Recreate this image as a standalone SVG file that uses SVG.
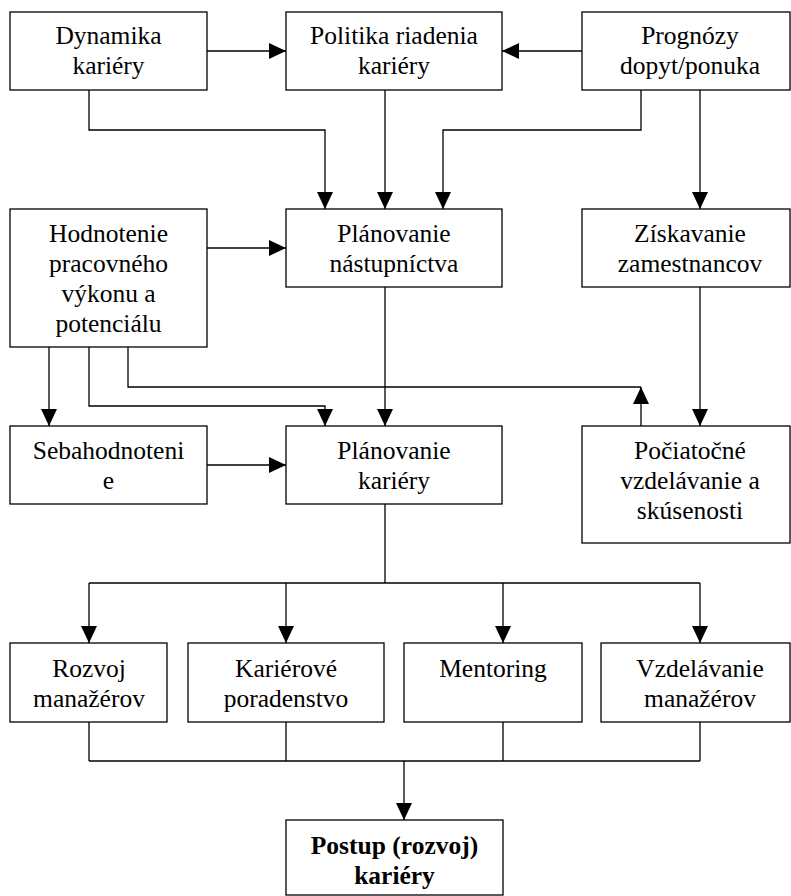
<svg xmlns="http://www.w3.org/2000/svg" width="791" height="896" viewBox="0 0 791 896">
<style>
.box{fill:#fff;stroke:#000;stroke-width:1.3}
.t{font-family:"Liberation Serif","Times New Roman",serif;font-size:25.5px;fill:#000;text-anchor:middle}
.b{font-weight:bold}
.c{fill:none;stroke:#000;stroke-width:1.3}
.a{marker-end:url(#ah)}
</style>
<defs>
<marker id="ah" markerUnits="userSpaceOnUse" markerWidth="18" markerHeight="18" refX="17" refY="8" orient="auto">
<path d="M0,0 L17,8 L0,16 z" fill="#000"/>
</marker>
</defs>
<rect width="791" height="896" fill="#fff"/>
<g id="connectors">
<path class="c a" d="M207,51 H286"/>
<path class="c a" d="M582,51 H502"/>
<path class="c a" d="M89,90 V130 H325 V209"/>
<path class="c a" d="M385,90 V209"/>
<path class="c a" d="M641,90 V130 H443 V209"/>
<path class="c a" d="M700,90 V209"/>
<path class="c a" d="M207,248 H286"/>
<path class="c a" d="M49,347 V426"/>
<path class="c a" d="M89,347 V406 H325 V426"/>
<path class="c" d="M128,347 V387 H641"/>
<path class="c a" d="M641,426 V387"/>
<path class="c a" d="M385,287 V426"/>
<path class="c a" d="M700,287 V426"/>
<path class="c a" d="M207,465 H286"/>
<path class="c" d="M385,504 V583 M89,583 H700"/>
<path class="c a" d="M89,583 V643"/>
<path class="c a" d="M286,583 V643"/>
<path class="c a" d="M503,583 V643"/>
<path class="c a" d="M700,583 V643"/>
<path class="c" d="M89,722 V761 M286,722 V761 M503,722 V761 M700,722 V761 M89,761 H700"/>
<path class="c a" d="M404,761 V820"/>
</g>
<g id="dynamika">
<rect class="box" x="10" y="12" width="197" height="78"/>
<text class="t" x="108.5" y="44">Dynamika</text>
<text class="t" x="108.5" y="74">kariéry</text>
</g>
<g id="politika">
<rect class="box" x="286" y="12" width="216" height="78"/>
<text class="t" x="394" y="44">Politika riadenia</text>
<text class="t" x="394" y="74">kariéry</text>
</g>
<g id="prognozy">
<rect class="box" x="582" y="12" width="208" height="78"/>
<text class="t" x="690" y="44">Prognózy</text>
<text class="t" x="690" y="74">dopyt/ponuka</text>
</g>
<g id="hodnotenie">
<rect class="box" x="10" y="209" width="197" height="138"/>
<text class="t" x="108.5" y="242">Hodnotenie</text>
<text class="t" x="108.5" y="272">pracovného</text>
<text class="t" x="108.5" y="302">výkonu a</text>
<text class="t" x="108.5" y="332">potenciálu</text>
</g>
<g id="planovanie-nastupnictva">
<rect class="box" x="286" y="209" width="216" height="78"/>
<text class="t" x="394" y="242">Plánovanie</text>
<text class="t" x="394" y="272">nástupníctva</text>
</g>
<g id="ziskavanie">
<rect class="box" x="582" y="209" width="208" height="78"/>
<text class="t" x="690" y="242">Získavanie</text>
<text class="t" x="690" y="272">zamestnancov</text>
</g>
<g id="sebahodnotenie">
<rect class="box" x="10" y="426" width="197" height="78"/>
<text class="t" x="108.5" y="459">Sebahodnoteni</text>
<text class="t" x="108.5" y="489">e</text>
</g>
<g id="planovanie-kariery">
<rect class="box" x="286" y="426" width="216" height="78"/>
<text class="t" x="394" y="459">Plánovanie</text>
<text class="t" x="394" y="489">kariéry</text>
</g>
<g id="pociatocne">
<rect class="box" x="582" y="426" width="208" height="117"/>
<text class="t" x="690" y="459">Počiatočné</text>
<text class="t" x="690" y="489">vzdelávanie a</text>
<text class="t" x="690" y="519">skúsenosti</text>
</g>
<g id="rozvoj">
<rect class="box" x="10" y="643" width="157" height="79"/>
<text class="t" x="89" y="677">Rozvoj</text>
<text class="t" x="89" y="707">manažérov</text>
</g>
<g id="poradenstvo">
<rect class="box" x="188" y="643" width="196" height="79"/>
<text class="t" x="286" y="677">Kariérové</text>
<text class="t" x="286" y="707">poradenstvo</text>
</g>
<g id="mentoring">
<rect class="box" x="404" y="643" width="178" height="79"/>
<text class="t" x="493" y="677">Mentoring</text>
</g>
<g id="vzdelavanie">
<rect class="box" x="601" y="643" width="189" height="79"/>
<text class="t" x="700" y="677">Vzdelávanie</text>
<text class="t" x="700" y="707">manažérov</text>
</g>
<g id="postup">
<rect class="box" x="286" y="820" width="217" height="75"/>
<text class="t b" x="394.5" y="854">Postup (rozvoj)</text>
<text class="t b" x="394.5" y="884">kariéry</text>
</g>
</svg>
